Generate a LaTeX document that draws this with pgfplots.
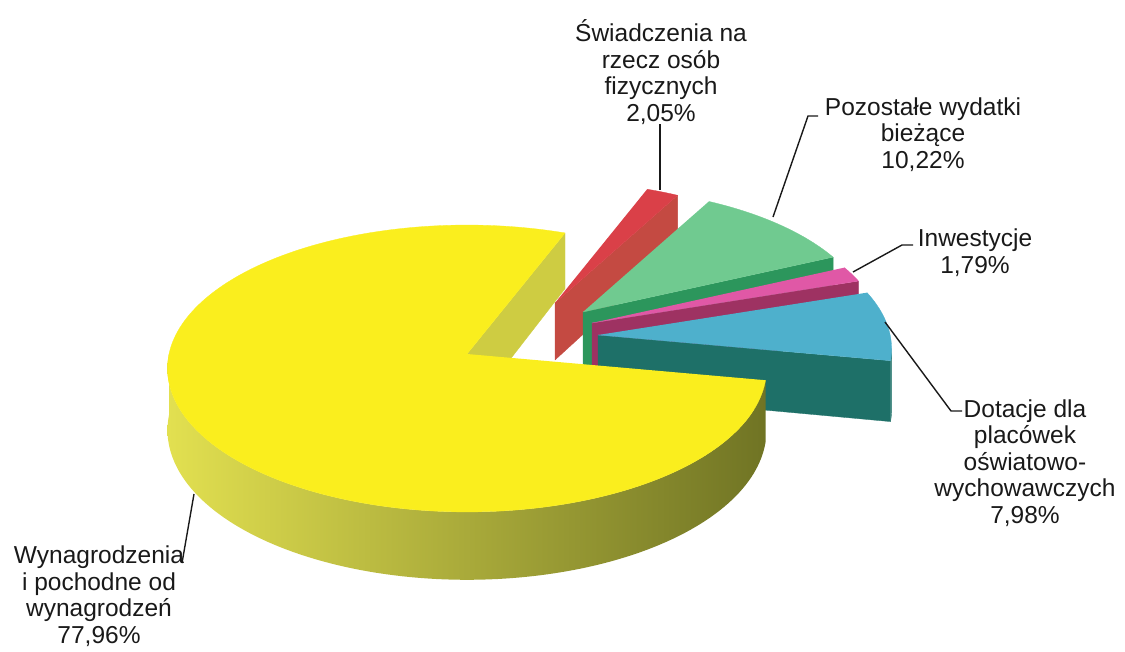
\documentclass[border=0pt]{standalone}
\usepackage{fontspec}
\setmainfont{Liberation Sans}
\usepackage{pgfplots}
\usepackage{pgfplotstable}
\pgfplotsset{compat=1.18}

\definecolor{ytop}{RGB}{250,238,30}
\definecolor{ycut}{RGB}{206,204,66}
\definecolor{ysideA}{RGB}{226,224,80}
\definecolor{ysideM}{RGB}{192,192,58}
\definecolor{ysideC}{RGB}{112,116,36}
\definecolor{btop}{RGB}{78,176,204}
\definecolor{bside}{RGB}{30,112,104}
\definecolor{ptop}{RGB}{224,88,166}
\definecolor{pside}{RGB}{158,50,98}
\definecolor{gtop}{RGB}{112,202,144}
\definecolor{gside}{RGB}{44,150,92}
\definecolor{rtop}{RGB}{218,64,72}
\definecolor{rside}{RGB}{196,74,66}

% shares of the expenses (percent)
\pgfplotstableread{
label pct
Wynagrodzenia 77.96
Dotacje 7.98
Inwestycje 1.79
Pozostale 10.22
Swiadczenia 2.05
}\piedata

\pgfplotstablegetelem{0}{pct}\of\piedata \let\pY\pgfplotsretval
\pgfplotstablegetelem{1}{pct}\of\piedata \let\pD\pgfplotsretval
\pgfplotstablegetelem{2}{pct}\of\piedata \let\pI\pgfplotsretval
\pgfplotstablegetelem{3}{pct}\of\piedata \let\pP\pgfplotsretval
\pgfplotstablegetelem{4}{pct}\of\piedata \let\pS\pgfplotsretval
\pgfmathsetmacro\tA{68.9}
\pgfmathsetmacro\tB{\tA+3.6*\pY}
\pgfmathsetmacro\tC{\tB+3.6*\pD}
\pgfmathsetmacro\tD{\tC+3.6*\pI}
\pgfmathsetmacro\tE{\tD+3.6*\pP}
\pgfmathsetmacro\tF{\tE+3.6*\pS}

\newcommand\pk{0.101}
\newcommand\pA{298}
\newcommand\pB{142}
\newcommand\pH{61}

\newcommand\addpt[2]{%
  \pgfmathsetmacro\ww{1+\wo+\pk*sin(#1)}%
  \pgfmathsetmacro\px{\ax+\pA*cos(#1)/\ww}%
  \pgfmathsetmacro\py{\ay+(-\pB*sin(#1)+\pH*#2)/\ww}%
  \xdef\ptlist{\ptlist(\px,\py)}}
\newcommand\addapex[1]{%
  \pgfmathsetmacro\py{\ay+\pH*#1/(1+\wo)}%
  \xdef\ptlist{\ptlist(\ax,\py)}}
\newcommand\addarc[3]{%
  \pgfmathtruncatemacro\nn{max(2,ceil(abs(#2-#1)/1.5))}%
  \pgfmathsetmacro\stp{(#2-#1)/\nn}%
  \foreach \k in {0,...,\nn}{%
    \pgfmathsetmacro\myang{#1+\stp*\k}%
    \addpt{\myang}{#3}}}
\newcommand\emit[1]{%
  \edef\tmp{\noexpand\addplot[draw={#1},fill={#1},line width=0.3pt,line join=round] coordinates {\ptlist};}%
  \tmp}
\newcommand\emitshade[3]{%
  \edef\tmp{\noexpand\addplot[draw=none,left color=#1,middle color=#2,right color=#3] coordinates {\ptlist};}%
  \tmp}
\newcommand\cutface[2]{\gdef\ptlist{}\addapex{0}\addapex{1}\addpt{#1}{1}\addpt{#1}{0}\emit{#2}}
\newcommand\topface[3]{\gdef\ptlist{}\addapex{0}\addarc{#1}{#2}{0}\emit{#3}}
\newcommand\sideface[3]{\gdef\ptlist{}\addarc{#1}{#2}{0}\addarc{#2}{#1}{1}\emit{#3}}
\newcommand\sideshade[5]{\gdef\ptlist{}\addarc{#1}{#2}{0}\addarc{#2}{#1}{1}\emitshade{#3}{#4}{#5}}

\newcommand\lblfont{\fontsize{24.5}{26.5}\selectfont}

\begin{document}%
\begin{tikzpicture}[lbl/.style={align=center, font=\lblfont, inner sep=0pt, anchor=base, text=black!90}]
\begin{axis}[name=ax,
  scale only axis, width=1125pt, height=651pt,
  xmin=0, xmax=1125, ymin=0, ymax=651, y dir=reverse,
  hide axis, clip=false, no marks]
\coordinate (bbSW) at (axis cs:0,651);
\coordinate (bbNE) at (axis cs:1125,0);
% Swiadczenia (red)
\def\ax{555}\def\ay{303}\def\wo{0.07}
\cutface{\tE}{rside}
\topface{\tE}{\tF}{rtop}
% Pozostale (green)
\def\ax{583}\def\ay{312}\def\wo{0.04}
\cutface{\tD}{gside}
\topface{\tD}{\tE}{gtop}
% Inwestycje (pink)
\def\ax{592}\def\ay{323}\def\wo{0.03}
\cutface{\tC}{pside}
\topface{\tC}{\tD}{ptop}
% Dotacje (blue)
\def\ax{598}\def\ay{335}\def\wo{0.02}
\cutface{\tB}{bside}
\sideface{\tB}{354.5}{bside}
\topface{\tB}{\tC}{btop}
% Wynagrodzenia (yellow)
\def\ax{467}\def\ay{354}\def\wo{0}
\cutface{\tA}{ycut}
\sideshade{180}{\tB}{ysideA}{ysideM}{ysideC}
\topface{\tA}{\tB}{ytop}
% leader lines
\addplot[black!90, line width=1.4pt] coordinates {(660,124) (660,190)};
\addplot[black!90, line width=1.4pt] coordinates {(818,116) (808,116) (773,217)};
\addplot[black!90, line width=1.4pt] coordinates {(913,245) (902,245) (853,272)};
\addplot[black!90, line width=1.4pt] coordinates {(962,411) (951,411) (885,322)};
\addplot[black!90, line width=1.4pt] coordinates {(182,563) (194,494)};
% labels (anchored at the baseline of the last line)
\node[lbl] at (axis cs:661,121) {Świadczenia na\\rzecz osób\\fizycznych\\2,05\%};
\node[lbl] at (axis cs:923,168) {Pozostałe wydatki\\bieżące\\10,22\%};
\node[lbl] at (axis cs:975,273) {Inwestycje\\1,79\%};
\node[lbl] at (axis cs:1025,523) {Dotacje dla\\placówek\\oświatowo-\\wychowawczych\\7,98\%};
\node[lbl] at (axis cs:99,643) {Wynagrodzenia\\i pochodne od\\wynagrodzeń\\77,96\%};
\end{axis}
\pgfresetboundingbox
\path[use as bounding box] (bbSW) rectangle (bbNE);
\end{tikzpicture}%
\end{document}
